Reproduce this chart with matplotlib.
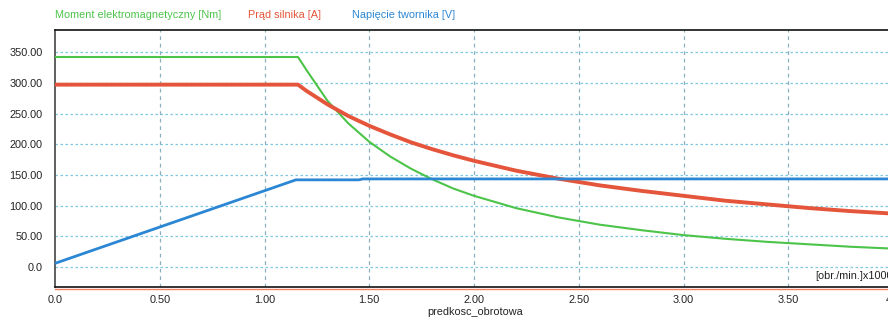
import numpy as np
import matplotlib
matplotlib.use("Agg")
import matplotlib.pyplot as plt

plt.rcParams['font.family'] = ['Liberation Sans', 'DejaVu Sans']

# predkosc obrotowa [obr./min.] x1000
x_moment = [0.0, 1.16, 1.2, 1.3, 1.4, 1.5, 1.6, 1.7, 1.8, 1.9, 2.0, 2.2, 2.4,
            2.6, 2.8, 3.0, 3.2, 3.4, 3.6, 3.8, 4.0]
moment = [342, 342, 321, 271, 234, 204, 180, 160, 143, 128, 116, 96, 81,
          69, 60, 52, 46, 41, 37, 33, 30]

x_prad = [0.0, 1.16, 1.2, 1.3, 1.4, 1.5, 1.6, 1.7, 1.8, 1.9, 2.0, 2.2, 2.4,
          2.6, 2.8, 3.0, 3.2, 3.4, 3.6, 3.8, 4.0]
prad = [297, 297, 287, 265, 246, 230, 216, 203, 192, 182, 173, 157, 144,
        133, 124, 116, 108, 102, 96, 91, 87]

x_napiecie = [0.0, 1.15, 1.45, 1.47, 4.0]
napiecie = [6, 142, 142, 143.5, 143.5]

xticks = [0.0, 0.5, 1.0, 1.5, 2.0, 2.5, 3.0, 3.5, 4.0]
xlabels = ["0.0", "0.50", "1.00", "1.50", "2.00", "2.50", "3.00", "3.50", "4.0"]
yticks = [0, 50, 100, 150, 200, 250, 300, 350]
ylabels = ["0.0", "50.00", "100.00", "150.00", "200.00", "250.00", "300.00", "350.00"]

c_green = "#4cc449"
c_red = "#e4553b"
c_blue = "#2b87d4"

fig = plt.figure(figsize=(8.88, 3.2), dpi=100)
ax = fig.add_axes([55/888, 1-287/320, 838/888, (287-30)/320])

ax.set_xlim(0, 4.0)
ax.set_ylim(-32.5, 386)

ax.plot(x_moment, moment, color=c_green, lw=1.5, zorder=3)
ax.plot(x_prad, prad, color=c_red, lw=2.8, zorder=3)
ax.plot(x_napiecie, napiecie, color=c_blue, lw=2.0, zorder=4)

ax.set_xticks(xticks)
ax.set_xticklabels(xlabels)
ax.set_yticks(yticks)
ax.set_yticklabels(ylabels)
ax.tick_params(length=0, labelsize=7.8, colors="#222222")
ax.tick_params(axis="x", pad=6)
ax.tick_params(axis="y", pad=9)

for v in yticks:
    ax.axhline(v, color="#7ec8e0", lw=0.9, ls=(0, (2, 2)), zorder=1)
for v in xticks[1:-1]:
    ax.axvline(v, color="#8ab0c0", lw=0.9, ls=(0, (3, 3)), zorder=1)

for s in ["top", "bottom"]:
    ax.spines[s].set_color("#111111")
    ax.spines[s].set_linewidth(1.2)
ax.spines["right"].set_visible(False)
ax.spines["left"].set_color("#444444")
ax.spines["left"].set_linestyle((0, (2, 1)))
ax.spines["left"].set_linewidth(1.2)

# orange line under the bottom axis
ax.axhline(-35, color="#f08060", lw=1.0, clip_on=False, zorder=0)

fig.text(815/888, 1-276/320, "[obr./min.]x1000", fontsize=7.8,
         ha="left", va="center", color="#222222")
fig.text(475/888, 1-312/320, "predkosc_obrotowa", fontsize=7.8, ha="center",
         va="center", color="#222222")

fig.text(55/888, 1-15/320, "Moment elektromagnetyczny [Nm]", color=c_green,
         fontsize=7.8, va="center")
fig.text(248/888, 1-15/320, "Prąd silnika [A]", color=c_red, fontsize=7.8, va="center")
fig.text(352/888, 1-15/320, "Napięcie twornika [V]", color=c_blue, fontsize=7.8, va="center")

fig.savefig("out.png", dpi=100)
